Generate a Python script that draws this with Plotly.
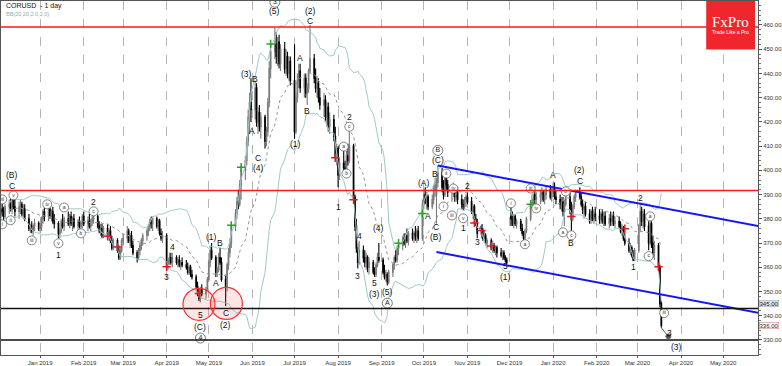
import plotly.graph_objects as go
import pandas as pd

# ---------------- data (daily bars, one line per week) ----------------
opens = [
    382, 384, 383, 381,
    385, 386, 384, 388, 385,
    383, 385, 386, 382, 384,
    380, 376, 377, 375, 377,
    378, 376, 377, 380, 383,
    381, 384, 381, 383, 379,
    378, 374, 375, 379, 377,
    380, 378, 381, 378, 380,
    377, 379, 377, 378, 381,
    378, 379, 377, 379, 380,
    381, 377, 375, 376, 373,
    376, 373, 375, 371, 368,
    371, 367, 364, 367, 371,
    372, 375, 371, 373, 369,
    366, 364, 367, 369, 371,
    373, 375, 377, 379, 378,
    380, 377, 379, 374, 372,
    373, 361, 363, 364, 362,
    364, 362, 363, 361, 362,
    361, 360, 358, 360, 357,
    356, 352, 349, 347, 351,
    349, 351, 355, 362, 367,
    364, 358, 359, 364, 362,
    355, 352, 361, 366, 370,
    377, 382, 387, 386, 394,
    400, 404, 412, 422, 428,
    425, 434, 420, 424, 418,
    422, 412, 416, 428, 442,
    449, 452, 447, 453, 444,
    450, 442, 447, 440, 445,
    437, 416, 430, 437, 441,
    434, 438, 432, 434, 441,
    446, 438, 434, 436, 430,
    427, 429, 422, 426, 418,
    421, 414, 406, 409, 398,
    403, 401, 400, 406, 404,
    410, 389, 377, 368, 362,
    367, 364, 362, 364, 360,
    362, 358, 357, 361, 364,
    363, 358, 356, 357, 354,
    358, 361, 364, 363, 368,
    369, 372, 370, 373, 371,
    374, 372, 374, 373, 375,
    372, 386, 390, 387, 389,
    385, 388, 392, 390, 395,
    399, 393, 390, 397, 394,
    391, 392, 393, 389, 391,
    388, 386, 385, 388, 389,
    387, 383, 385, 380, 378,
    374, 375, 372, 373, 370,
    371, 368, 369, 367, 368,
    366, 365, 366, 364, 363,
    381, 380, 378, 381, 378,
    379, 376, 374, 372, 375,
    380, 386, 388, 390, 388,
    389, 390, 391, 388, 390,
    392, 389, 391, 393, 389,
    388, 386, 387, 383, 386,
    389, 384, 380, 385, 389,
    391, 389, 386, 384, 385,
    382, 379, 383, 380, 382,
    381, 380, 382, 379, 381,
    378, 380, 379, 381, 378,
    379, 377, 375, 376, 372,
    370, 367, 368, 365, 363,
    367, 377, 383, 379, 382,
    377, 370, 378, 370, 366,
    369, 360, 345,
]
highs = [
    386, 388, 385, 386,
    388, 389, 390, 390, 388,
    387, 388, 387, 386, 386,
    382, 378, 379, 378, 380,
    379, 378, 381, 384, 385,
    385, 386, 384, 385, 382,
    379, 376, 380, 382, 381,
    383, 382, 383, 381, 382,
    380, 381, 379, 382, 383,
    381, 382, 380, 382, 381,
    382, 379, 378, 378, 377,
    378, 376, 377, 373, 372,
    372, 369, 368, 372, 374,
    377, 376, 374, 375, 371,
    367, 368, 370, 372, 374,
    376, 378, 380, 381, 381,
    381, 380, 380, 376, 375,
    374, 364, 366, 366, 366,
    365, 364, 365, 363, 364,
    363, 362, 361, 361, 359,
    357, 354, 351, 352, 353,
    352, 356, 363, 369, 370,
    365, 360, 366, 368, 364,
    357, 362, 368, 372, 378,
    384, 389, 392, 396, 402,
    406, 414, 425, 432, 438,
    437, 436, 426, 427, 424,
    423, 418, 430, 445, 452,
    459, 457, 455, 456, 452,
    453, 450, 449, 447, 447,
    452, 432, 440, 444, 444,
    440, 440, 436, 442, 460,
    448, 442, 439, 438, 434,
    432, 431, 428, 428, 424,
    423, 418, 411, 410, 405,
    409, 404, 408, 411, 417,
    411, 390, 380, 370, 371,
    369, 367, 366, 365, 364,
    363, 360, 362, 366, 370,
    364, 361, 359, 358, 359,
    362, 365, 367, 369, 371,
    373, 374, 374, 376, 375,
    376, 375, 377, 376, 377,
    388, 392, 393, 391, 390,
    390, 394, 397, 397, 402,
    401, 396, 399, 400, 396,
    394, 395, 394, 393, 393,
    390, 388, 389, 390, 391,
    389, 386, 386, 382, 380,
    376, 376, 375, 374, 372,
    372, 371, 370, 369, 369,
    368, 367, 367, 365, 364,
    385, 383, 382, 382, 380,
    380, 378, 375, 376, 381,
    387, 390, 392, 392, 391,
    392, 393, 392, 392, 394,
    394, 393, 395, 395, 392,
    390, 389, 389, 388, 393,
    391, 387, 386, 390, 392,
    393, 391, 388, 386, 387,
    384, 384, 385, 384, 385,
    384, 383, 384, 383, 383,
    382, 383, 382, 383, 381,
    381, 379, 378, 377, 374,
    372, 370, 369, 367, 368,
    378, 386, 385, 384, 384,
    379, 381, 379, 373, 371,
    370, 361, 346,
]
lows = [
    379, 381, 379, 380,
    382, 383, 382, 384, 381,
    380, 382, 381, 380, 379,
    375, 374, 374, 373, 375,
    375, 374, 375, 378, 379,
    379, 380, 379, 378, 376,
    372, 372, 374, 376, 375,
    377, 376, 377, 375, 376,
    375, 376, 375, 376, 377,
    375, 376, 375, 377, 378,
    376, 374, 373, 372, 372,
    372, 371, 370, 367, 367,
    366, 363, 363, 366, 369,
    370, 370, 368, 368, 365,
    362, 363, 365, 367, 369,
    371, 373, 375, 376, 375,
    376, 375, 373, 371, 370,
    359, 359, 361, 361, 360,
    361, 360, 360, 359, 360,
    359, 357, 357, 356, 355,
    351, 348, 346, 345.5, 348,
    347, 350, 354, 360, 363,
    356, 356, 358, 361, 354,
    344, 350, 359, 364, 368,
    375, 380, 384, 385, 388,
    396, 402, 410, 415, 420,
    421, 418, 415, 416, 413,
    409, 410, 414, 426, 438,
    446, 444, 443, 442, 441,
    440, 439, 438, 437, 435,
    413, 415, 428, 434, 432,
    430, 430, 427, 432, 440,
    436, 432, 430, 428, 425,
    422, 420, 418, 416, 415,
    412, 404, 402, 393, 396,
    399, 398, 399, 402, 403,
    388, 375, 366, 359.5, 361,
    362, 360, 359, 358, 357,
    357, 356, 356, 360, 362,
    357, 355, 354, 352.5, 353,
    356, 359, 362, 362, 365,
    367, 369, 368, 370, 369,
    371, 370, 371, 370, 371,
    371, 384, 386, 384, 383.5,
    384, 386, 389, 378, 393,
    391, 388, 389, 392, 389,
    387, 389, 387, 387, 386,
    384, 383.5, 384, 385, 386,
    382, 380, 378, 377, 372,
    372, 371, 370, 369, 368,
    367, 366, 366, 365, 364,
    364, 363, 363, 362, 361,
    377, 377, 376, 377, 376,
    375, 373, 371, 371, 374,
    379, 384, 386, 386, 385,
    386, 387, 387, 386, 388,
    388, 387, 389, 388, 386,
    384, 383, 381, 377, 385,
    382, 375, 379, 384, 387,
    388, 385, 382, 380, 381,
    378, 378, 379, 378, 379,
    378, 378, 378, 377, 377,
    376, 377, 377, 377, 376,
    376, 374, 373, 371, 369,
    366, 365, 364, 362.5, 362.5,
    366, 375, 377, 376, 375,
    367, 369, 368, 364, 363,
    358, 343.5, 335,
]
closes = [
    384, 383, 381, 385,
    386, 384, 388, 385, 383,
    385, 386, 382, 384, 380,
    376, 377, 375, 377, 378,
    376, 377, 380, 383, 381,
    384, 381, 383, 379, 378,
    374, 375, 379, 377, 380,
    378, 381, 378, 380, 377,
    379, 377, 378, 381, 378,
    379, 377, 379, 380, 381,
    377, 375, 376, 373, 376,
    373, 375, 371, 368, 371,
    367, 364, 367, 371, 372,
    375, 371, 373, 369, 366,
    364, 367, 369, 371, 373,
    375, 377, 379, 378, 380,
    377, 379, 374, 372, 373,
    361, 363, 364, 362, 364,
    362, 363, 361, 362, 361,
    360, 358, 360, 357, 356,
    352, 349, 347, 351, 349,
    351, 355, 362, 367, 364,
    358, 359, 364, 362, 355,
    352, 361, 366, 370, 377,
    382, 387, 386, 394, 400,
    404, 412, 422, 428, 425,
    434, 420, 424, 418, 422,
    412, 416, 428, 442, 449,
    452, 447, 453, 444, 450,
    442, 447, 440, 445, 437,
    416, 430, 437, 441, 434,
    438, 432, 434, 441, 446,
    438, 434, 436, 430, 427,
    429, 422, 426, 418, 421,
    414, 406, 409, 398, 403,
    401, 400, 406, 404, 410,
    389, 377, 368, 362, 367,
    364, 362, 364, 360, 362,
    358, 357, 361, 364, 363,
    358, 356, 357, 354, 358,
    361, 364, 363, 368, 369,
    372, 370, 373, 371, 374,
    372, 374, 373, 375, 372,
    386, 390, 387, 389, 385,
    388, 392, 394, 395, 399,
    393, 390, 397, 394, 391,
    392, 393, 389, 391, 388,
    386, 385, 388, 389, 387,
    383, 385, 380, 378, 374,
    375, 372, 373, 370, 371,
    368, 369, 367, 368, 366,
    365, 366, 364, 363, 362,
    380, 378, 381, 378, 379,
    376, 374, 372, 375, 380,
    386, 388, 390, 388, 389,
    390, 391, 388, 390, 392,
    389, 391, 393, 389, 388,
    386, 387, 383, 386, 389,
    384, 380, 385, 389, 391,
    389, 386, 384, 385, 382,
    379, 383, 380, 382, 381,
    380, 382, 379, 381, 378,
    380, 379, 381, 378, 379,
    377, 375, 376, 372, 370,
    367, 368, 365, 363, 367,
    377, 383, 379, 382, 377,
    370, 378, 370, 366, 369,
    360, 345, 336,
]
start_date = "2018-12-04"

# analyst drawings
red_levels = [459.2, 391.7]
black_levels = [343.0, 330.0]
chan_upper_dates = ["2019-10-11", "2020-05-26"]
chan_upper_vals = [402.0, 377.0]
chan_lower_dates = ["2019-10-10", "2020-05-26"]
chan_lower_vals = [366.3, 341.2]
pointer_dates = ["2020-03-18", "2020-03-23"]
pointer_vals = [335.0, 331.5]
circle_dates = ["2019-04-24", "2019-05-13 12:00"]
circle_vals = [344.7, 345.1]

green_dates = ["2019-05-17", "2019-05-24", "2019-06-14", "2019-09-13", "2019-09-30", "2019-12-16"]
green_vals = [377.3, 401.3, 452.2, 369.9, 382.2, 386.0]
red_dates = ["2019-02-18", "2019-02-25", "2019-04-01", "2019-04-24", "2019-07-30", "2019-08-12",
             "2019-11-06", "2019-11-11", "2019-11-18", "2020-01-14", "2020-02-21", "2020-03-16"]
red_vals = [372.8, 368.4, 360.2, 349.2, 405.2, 387.9, 378.3, 375.2, 368.8, 381.0, 375.9, 360.2]

wave_labels = [
    ("(B)", "2018-12-12", 398.0), ("C", "2018-12-12", 393.6),
    ("1", "2019-01-14", 365.0), ("2", "2019-02-08", 386.8),
    ("3", "2019-04-01", 356.0), ("4", "2019-04-05", 368.3),
    ("5", "2019-04-25", 340.3), ("(C)", "2019-04-25", 335.3),
    ("(1)", "2019-05-03", 372.4), ("A", "2019-05-06", 353.4), ("B", "2019-05-09", 369.9),
    ("C", "2019-05-13", 341.1), ("(2)", "2019-05-13", 336.2),
    ("(3)", "2019-05-28", 439.9), ("B", "2019-06-03", 437.8), ("A", "2019-06-01", 416.4),
    ("C", "2019-06-05", 405.3), ("(4)", "2019-06-05", 400.8),
    ("(5)", "2019-06-17", 465.8), ("(1)", "2019-07-02", 411.0),
    ("A", "2019-07-05", 446.4), ("B", "2019-07-10", 424.6),
    ("C", "2019-07-12", 461.5), ("(2)", "2019-07-12", 465.6),
    ("1", "2019-08-01", 384.7), ("2", "2019-08-09", 422.2),
    ("3", "2019-08-15", 356.3), ("4", "2019-08-16", 372.8),
    ("5", "2019-08-27", 353.4), ("(3)", "2019-08-27", 348.9),
    ("(4)", "2019-08-30", 376.1), ("(5)", "2019-09-05", 349.7),
    ("(A)", "2019-10-01", 394.6), ("A", "2019-10-04", 381.0), ("B", "2019-10-09", 398.7),
    ("C", "2019-10-10", 376.5), ("(B)", "2019-10-10", 372.4), ("(C)", "2019-10-11", 404.1),
    ("1", "2019-10-29", 376.1), ("2", "2019-11-01", 393.4),
    ("3", "2019-11-08", 370.3), ("4", "2019-11-11", 376.5),
    ("5", "2019-11-28", 360.4), ("(1)", "2019-11-28", 355.9),
    ("A", "2020-01-01", 397.9), ("B", "2020-01-14", 369.9),
    ("(2)", "2020-01-20", 400.0), ("C", "2020-01-20", 395.6),
    ("1", "2020-02-27", 360.0), ("2", "2020-03-03", 388.4),
    ("3", "2020-03-24", 332.9), ("(3)", "2020-03-29", 327.1),
]
big_circled = [
    ("4", "2019-04-25", 330.8), ("3", "2019-06-17", 469.4),
    ("A", "2019-09-05", 345.2), ("B", "2019-10-11", 408.2),
]
small_circled = [
    ("iii", "2018-12-05", 388.0), ("i", "2018-12-05", 377.7), ("ii", "2018-12-11", 379.4),
    ("v", "2018-12-13", 389.7), ("iii", "2018-12-26", 371.1), ("iv", "2019-01-06", 386.0),
    ("v", "2019-01-14", 369.9), ("a", "2019-01-18", 384.7), ("b", "2019-01-30", 374.0),
    ("c", "2019-02-08", 383.1), ("a", "2019-08-05", 409.8), ("b", "2019-08-07", 398.7),
    ("c", "2019-08-09", 418.0), ("i", "2019-10-15", 385.1), ("ii", "2019-10-17", 398.7),
    ("iii", "2019-10-21", 381.4), ("iv", "2019-10-22", 392.5), ("v", "2019-10-29", 380.2),
    ("i", "2019-12-02", 386.4), ("a", "2019-12-12", 369.5), ("iii", "2019-12-16", 392.5),
    ("iv", "2019-12-20", 384.3), ("a", "2020-01-08", 374.4), ("b", "2020-01-10", 391.3),
    ("c", "2020-01-14", 373.2), ("a", "2020-03-10", 381.0), ("c", "2020-03-09", 364.6),
    ("iii", "2020-03-20", 341.1),
]

# ---------------- build ----------------
dates = pd.bdate_range(start_date, periods=len(closes))
cs = pd.Series(closes, dtype=float)
mid = cs.rolling(20, min_periods=5).mean()
sd = cs.rolling(20, min_periods=5).std(ddof=0)
upper = mid + 2 * sd
lower = mid - 2 * sd

fig = go.Figure()
band_col = "#9fcaca"
fig.add_trace(go.Scatter(x=dates, y=upper, mode="lines", line=dict(color=band_col, width=1), hoverinfo="skip"))
fig.add_trace(go.Scatter(x=dates, y=lower, mode="lines", line=dict(color=band_col, width=1), hoverinfo="skip"))
fig.add_trace(go.Scatter(x=dates, y=mid, mode="lines", line=dict(color="#8a9a9a", width=1, dash="dot"), hoverinfo="skip"))

fig.add_trace(go.Candlestick(
    x=dates, open=opens, high=highs, low=lows, close=closes,
    increasing=dict(line=dict(color="#7a7a7a", width=1.1), fillcolor="#b0b0b0"),
    decreasing=dict(line=dict(color="#000000", width=1.1), fillcolor="#000000"),
    whiskerwidth=0, hoverinfo="skip"))

fig.add_trace(go.Scatter(x=chan_upper_dates, y=chan_upper_vals, mode="lines", line=dict(color="#1515f5", width=2)))
fig.add_trace(go.Scatter(x=chan_lower_dates, y=chan_lower_vals, mode="lines", line=dict(color="#1515f5", width=2)))

fig.add_trace(go.Scatter(x=green_dates, y=green_vals, mode="markers",
                         marker=dict(symbol="cross-thin", size=6, line=dict(color="#2ca02c", width=1.5))))
fig.add_trace(go.Scatter(x=red_dates, y=red_vals, mode="markers",
                         marker=dict(symbol="cross-thin", size=6, line=dict(color="#d62020", width=1.5))))

fig.add_trace(go.Scatter(x=pointer_dates, y=pointer_vals, mode="lines+markers",
                         line=dict(color="#333333", width=0.8),
                         marker=dict(size=[0, 5], color="#000000")))

fig.add_trace(go.Scatter(
    x=[d for _, d, _ in small_circled], y=[v for _, _, v in small_circled],
    mode="markers+text", text=[t for t, _, _ in small_circled], textposition="middle center",
    textfont=dict(size=5, color="#333333", family="Liberation Sans"),
    marker=dict(symbol="circle", size=9, color="white", line=dict(color="#666666", width=0.8))))
fig.add_trace(go.Scatter(
    x=[d for _, d, _ in big_circled], y=[v for _, _, v in big_circled],
    mode="markers+text", text=[t for t, _, _ in big_circled], textposition="middle center",
    textfont=dict(size=7, color="#222222", family="Liberation Sans"),
    marker=dict(symbol="circle", size=10, color="white", line=dict(color="#555555", width=0.8))))

for t, d, v in wave_labels:
    fig.add_annotation(x=d, y=v, text=t, showarrow=False, xanchor="center", yanchor="middle",
                       font=dict(size=8.5, color="#111111", family="Liberation Sans"))

shapes = []
for lv in red_levels:
    shapes.append(dict(type="line", xref="paper", yref="y", x0=0, x1=1, y0=lv, y1=lv,
                       line=dict(color="#ff1a1a", width=1.6), layer="above"))
for lv in black_levels:
    shapes.append(dict(type="line", xref="paper", yref="y", x0=0, x1=1, y0=lv, y1=lv,
                       line=dict(color="#111111", width=1.6), layer="above"))
for d, v in zip(circle_dates, circle_vals):
    shapes.append(dict(type="circle", xref="x", yref="y", xsizemode="pixel", ysizemode="pixel",
                       xanchor=d, yanchor=v, x0=-16, x1=16, y0=-16, y1=16,
                       fillcolor="rgba(255,60,60,0.13)", line=dict(color="#ff3030", width=1.2), layer="above"))
# logo box
W, H = 760.0, 357.0
shapes.append(dict(type="rect", xref="paper", yref="paper", x0=708 / W, x1=757 / W, y0=1 - 49 / H, y1=1.0,
                   fillcolor="#f0262c", line=dict(width=0), layer="above"))
fig.update_layout(shapes=shapes)

fig.add_annotation(xref="paper", yref="paper", x=732.5 / W, y=1 - 21.5 / H, text="FxPro", showarrow=False,
                   xanchor="center", yanchor="middle",
                   font=dict(size=15, color="white", family="Liberation Serif"))
fig.add_annotation(xref="paper", yref="paper", x=732.5 / W, y=1 - 31 / H, text="Trade Like a Pro", showarrow=False,
                   xanchor="center", yanchor="middle",
                   font=dict(size=5, color="white", family="Liberation Sans"))
fig.add_annotation(xref="paper", yref="paper", x=3 / W, y=1 - 5 / H, xanchor="left", yanchor="middle",
                   text="CORUSD  - 1 day",
                   showarrow=False, font=dict(size=7, color="#111111", family="Liberation Sans"))
fig.add_annotation(xref="paper", yref="paper", x=3 / W, y=1 - 13 / H, xanchor="left", yanchor="middle",
                   text="BB(20,20,2.0,2.0)",
                   showarrow=False, font=dict(size=5.5, color="#7fb3b3", family="Liberation Sans"))
fig.add_annotation(xref="paper", yref="y", x=1.0, y=345, xanchor="left", xshift=1, text="345.00", showarrow=False,
                   font=dict(size=6, color="#222222", family="Liberation Sans"),
                   bgcolor="#d5e2ea", bordercolor="#8fa9b8", borderwidth=0.5, borderpad=0)
fig.add_annotation(xref="paper", yref="y", x=1.0, y=336, xanchor="left", xshift=1, text="336.00", showarrow=False,
                   font=dict(size=6, color="#222222", family="Liberation Sans"),
                   bgcolor="#ffffff", bordercolor="#c07070", borderwidth=0.5, borderpad=0)

fig.update_layout(
    width=782, height=366, margin=dict(l=0, r=22, t=0, b=9),
    plot_bgcolor="white", paper_bgcolor="white", showlegend=False, hovermode=False,
    xaxis=dict(type="date", range=["2018-12-04 03:00", "2020-05-25 19:00"],
               rangeslider=dict(visible=False), showgrid=True, gridcolor="#b5b5b5", griddash="dash",
               gridwidth=1, dtick="M1", tick0="2019-01-01", tickformat="%b %Y",
               tickfont=dict(size=6, color="#333333", family="Liberation Sans"),
               ticks="outside", ticklen=2, tickcolor="#555555",
               showline=True, linecolor="#555555", linewidth=1, mirror=True, zeroline=False),
    yaxis=dict(side="right", range=[323.8, 469.9], dtick=10, tickformat=".2f", showgrid=False,
               ticks="outside", ticklen=3, tickcolor="#555555",
               minor=dict(dtick=2, ticks="outside", ticklen=2, tickcolor="#777777"),
               tickfont=dict(size=6, color="#333333", family="Liberation Sans"),
               showline=True, linecolor="#555555", linewidth=1, mirror=True, zeroline=False),
)

fig.write_html("out.html", config={"displayModeBar": False, "staticPlot": True},
               post_script="document.body.style.margin='0';document.body.style.overflow='hidden';")
